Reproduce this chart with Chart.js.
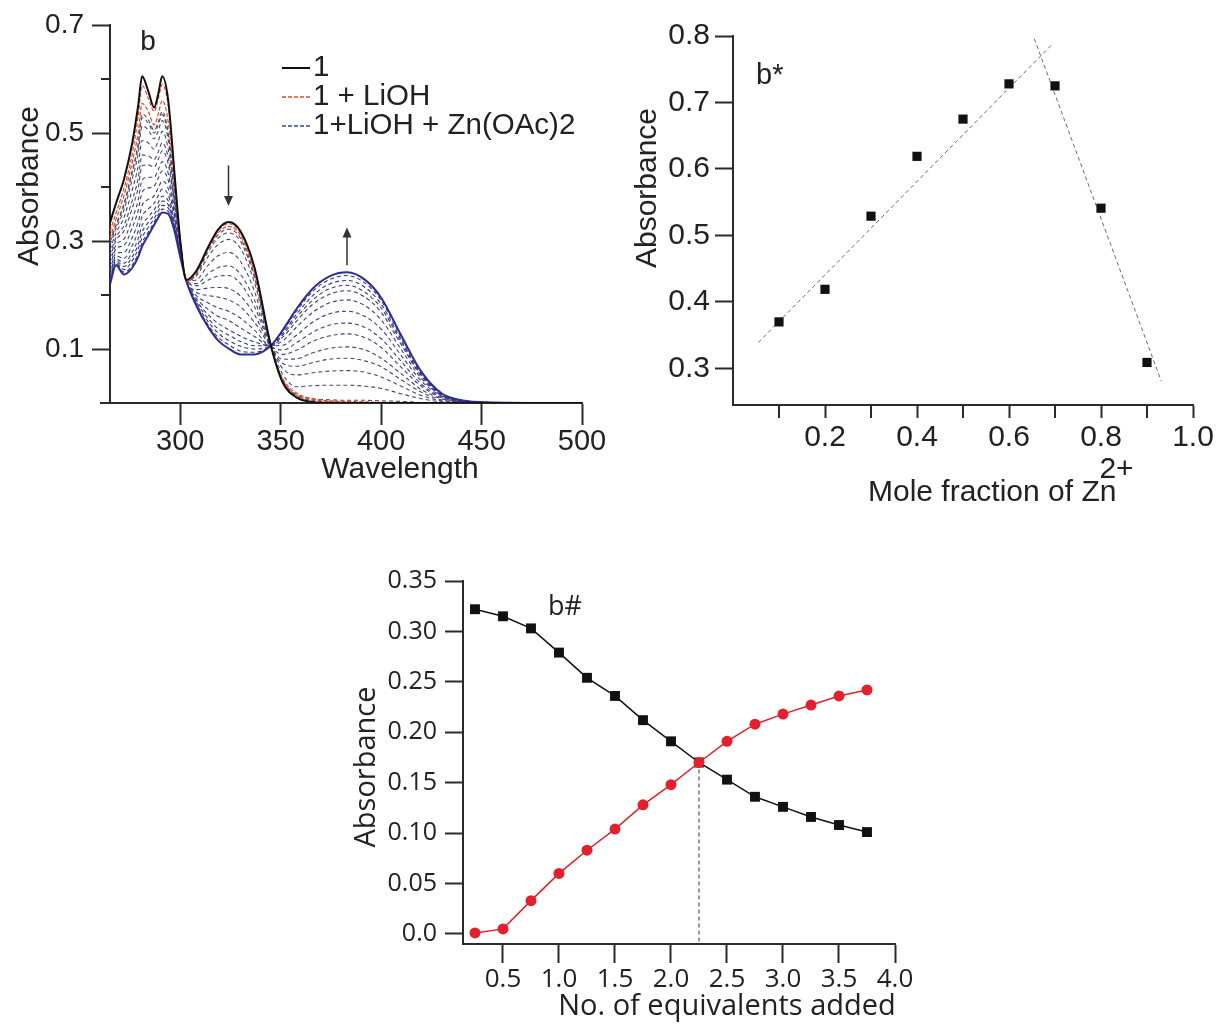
<!DOCTYPE html>
<html>
<head>
<meta charset="utf-8">
<title>Zn titration of 1</title>
<script src="https://cdn.jsdelivr.net/npm/chart.js@4.4.0/dist/chart.umd.min.js"></script>
<style>
  html, body { margin: 0; padding: 0; background: #fff; }
  body { width: 1216px; height: 1024px; position: relative; overflow: hidden; }
  .panel { position: absolute; }
</style>
</head>
<body>
<div class="panel" style="left:0;top:0;width:620px;height:500px"><canvas id="spectraChart"></canvas></div>
<div class="panel" style="left:620px;top:0;width:596px;height:520px"><canvas id="jobChart"></canvas></div>
<div class="panel" style="left:340px;top:540px;width:600px;height:484px"><canvas id="titrationChart"></canvas></div>
<script>
// ---- UV-vis spectra (panel b) ----
const wavelengths = [265, 268, 272, 276, 279, 281, 284, 287, 289, 291, 294, 297, 300, 303, 308, 314, 319, 324, 330, 337, 345, 351, 358, 366, 374, 383, 392, 400, 410, 420, 430, 440, 455, 500];

const ligandSpectrum = [.334, .370, .415, .480, .550, .605, .578, .547, .572, .605, .560, .430, .300, .228, .245, .290, .322, .335, .318, .250, .108, .038, .010, .002, 0, 0, 0, 0, 0, 0, 0, 0, 0, 0];

const lithiumSpectra = [
    [.318, .352, .398, .460, .530, .588, .565, .540, .563, .590, .550, .425, .300, .226, .243, .288, .320, .332, .315, .248, .107, .045, .018, .008, .004, .003, .002, .001, .001, 0, 0, 0, 0, 0],
    [.305, .340, .385, .445, .500, .555, .540, .515, .535, .560, .520, .410, .300, .226, .242, .287, .316, .327, .310, .240, .106, .042, .014, .006, .003, .002, .001, 0, 0, 0, 0, 0, 0, 0]
];

// one spectrum per Zn(OAc)2 addition, the last one is the end point
const zincSteps = [
    [.300, .330, .370, .430, .480, .535, .525, .505, .520, .540, .500, .400, .300, .226, .240, .285, .312, .322, .305, .235, .106, .040, .013, .005, .002, .001, .001, .001, .001, 0, 0, 0, 0, 0],
    [.298, .328, .366, .425, .474, .528, .519, .500, .515, .534, .496, .398, .299, .226, .238, .281, .306, .315, .299, .231, .106, .042, .015, .008, .006, .005, .005, .004, .003, .001, 0, 0, 0, 0],
    [.293, .323, .358, .414, .461, .513, .506, .489, .504, .523, .487, .393, .297, .226, .235, .272, .294, .303, .286, .222, .106, .053, .030, .032, .033, .033, .031, .027, .017, .008, .002, .001, 0, 0],
    [.284, .315, .344, .394, .438, .486, .482, .470, .485, .503, .470, .384, .294, .226, .228, .256, .273, .279, .262, .206, .106, .064, .052, .056, .059, .060, .057, .048, .031, .014, .004, .001, 0, 0],
    [.275, .307, .329, .374, .415, .459, .458, .451, .465, .482, .454, .375, .291, .226, .221, .240, .251, .254, .238, .190, .106, .073, .068, .075, .081, .083, .078, .067, .043, .020, .006, .002, 0, 0],
    [.269, .301, .319, .360, .398, .439, .441, .437, .451, .467, .442, .369, .288, .226, .217, .228, .235, .236, .221, .178, .106, .081, .082, .093, .101, .104, .098, .083, .054, .025, .008, .002, 0, 0],
    [.260, .293, .304, .340, .375, .413, .418, .418, .432, .447, .425, .360, .285, .226, .210, .213, .214, .212, .198, .163, .106, .090, .098, .114, .124, .128, .121, .103, .066, .031, .010, .003, 0, 0],
    [.253, .286, .292, .324, .356, .390, .398, .402, .416, .430, .412, .353, .282, .226, .205, .199, .196, .191, .178, .149, .106, .098, .112, .131, .144, .148, .140, .119, .077, .035, .011, .003, 0, 0],
    [.245, .278, .279, .306, .335, .366, .377, .384, .398, .411, .397, .345, .279, .226, .199, .185, .176, .170, .157, .135, .106, .107, .126, .150, .165, .170, .160, .137, .088, .041, .013, .004, 0, 0],
    [.238, .272, .268, .291, .318, .346, .359, .370, .384, .396, .385, .338, .277, .226, .194, .173, .160, .153, .139, .123, .106, .115, .141, .168, .185, .191, .180, .154, .099, .046, .014, .004, 0, 0],
    [.233, .267, .259, .279, .304, .329, .344, .358, .371, .383, .374, .333, .275, .226, .190, .163, .147, .136, .124, .113, .106, .122, .152, .183, .201, .208, .196, .168, .108, .050, .015, .004, .001, 0],
    [.229, .263, .253, .270, .293, .317, .334, .349, .363, .374, .367, .329, .273, .226, .187, .156, .137, .126, .114, .106, .106, .126, .159, .191, .211, .218, .205, .176, .113, .052, .016, .005, .001, 0],
    [.226, .260, .247, .263, .285, .307, .325, .342, .355, .366, .361, .326, .272, .226, .184, .150, .129, .116, .105, .100, .106, .129, .165, .199, .220, .227, .214, .183, .117, .054, .017, .005, .001, 0],
    [.222, .257, .242, .255, .276, .297, .316, .335, .348, .359, .355, .322, .271, .226, .182, .144, .121, .108, .096, .094, .106, .133, .171, .207, .228, .236, .222, .190, .122, .057, .018, .005, .001, 0],
    [.220, .255, .238, .250, .270, .290, .310, .330, .343, .353, .350, .320, .270, .226, .180, .140, .115, .101, .090, .090, .106, .135, .175, .212, .234, .242, .228, .195, .125, .058, .018, .005, .001, 0]
];

const spectraXTicks = [300, 350, 400, 450, 500];
const spectraYTicks = [0.1, 0.3, 0.5, 0.7];
const spectraYMinor = [0.2, 0.4, 0.6];
const spectraLegend = ['1', '1 + LiOH', '1+LiOH + Zn(OAc)2'];

// ---- Job plot (panel b*) ----
const moleFraction = [0.1, 0.2, 0.3, 0.4, 0.5, 0.6, 0.7, 0.8, 0.9];
const jobAbsorbance = [0.370, 0.419, 0.529, 0.619, 0.675, 0.728, 0.725, 0.541, 0.309];
const riseFit = [[0.055, 0.339], [0.696, 0.789]];
const fallFit = [[0.655, 0.796], [0.931, 0.281]];
const jobXTicks = [0.2, 0.4, 0.6, 0.8, 1.0];
const jobXMinor = [0.1, 0.3, 0.5, 0.7, 0.9];
const jobYTicks = [0.3, 0.4, 0.5, 0.6, 0.7, 0.8];

// ---- absorbance vs. equivalents (panel b#) ----
const equivalents = [0.25, 0.5, 0.75, 1.0, 1.25, 1.5, 1.75, 2.0, 2.25, 2.5, 2.75, 3.0, 3.25, 3.5, 3.75];
const abs324 = [0.322, 0.315, 0.303, 0.279, 0.254, 0.236, 0.212, 0.191, 0.170, 0.153, 0.136, 0.126, 0.116, 0.108, 0.101];
const abs383 = [0.001, 0.005, 0.033, 0.060, 0.083, 0.104, 0.128, 0.148, 0.170, 0.191, 0.208, 0.218, 0.227, 0.236, 0.242];
const crossIndex = 8;
const eqXTicks = [0.5, 1.0, 1.5, 2.0, 2.5, 3.0, 3.5, 4.0];
const eqYTicks = [0, 0.05, 0.10, 0.15, 0.20, 0.25, 0.30, 0.35];

const ARIAL = '"Liberation Sans", Arial, sans-serif';
const SANS = '"Open Sans", "Noto Sans", sans-serif';
const AXIS = '#2b2b2b';
const TEXT = '#222';

const toPoints = (xs, ys) => xs.map((x, i) => ({ x: x, y: ys[i] }));

function fixedTicks(values) {
    return scale => { scale.ticks = values.map(v => ({ value: v })); };
}

function axis(opts) {
    return {
        type: 'linear',
        min: opts.min,
        max: opts.max,
        afterBuildTicks: fixedTicks(opts.ticks),
        afterFit: scale => {
            if (scale.isHorizontal()) scale.height = opts.size;
            else scale.width = opts.size;
        },
        border: { display: true, color: AXIS, width: 2 },
        grid: { drawOnChartArea: false, drawTicks: true, tickLength: opts.tickLength, tickColor: AXIS, tickWidth: 2 },
        ticks: {
            autoSkip: false, maxRotation: 0, minRotation: 0,
            padding: opts.padding, color: TEXT,
            font: { family: opts.family, size: opts.fontSize },
            callback: opts.format
        }
    };
}

function text(ctx, str, x, y, font, align, rotate) {
    ctx.save();
    ctx.font = font;
    ctx.fillStyle = TEXT;
    ctx.textAlign = align || 'center';
    ctx.textBaseline = 'middle';
    ctx.translate(x, y);
    if (rotate) ctx.rotate(-Math.PI / 2);
    ctx.fillText(str, 0, 0);
    ctx.restore();
}

function minorTicks(chart, axisId, values, len) {
    const scale = chart.scales[axisId];
    const ctx = chart.ctx;
    ctx.save();
    ctx.strokeStyle = AXIS;
    ctx.lineWidth = 2;
    ctx.beginPath();
    values.forEach(v => {
        const p = scale.getPixelForValue(v);
        if (scale.isHorizontal()) {
            ctx.moveTo(p, chart.chartArea.bottom);
            ctx.lineTo(p, chart.chartArea.bottom + len);
        } else {
            ctx.moveTo(chart.chartArea.left, p);
            ctx.lineTo(chart.chartArea.left - len, p);
        }
    });
    ctx.stroke();
    ctx.restore();
}

function arrow(ctx, x, y1, y2) {
    const dir = y2 > y1 ? 1 : -1;
    ctx.save();
    ctx.strokeStyle = '#333';
    ctx.fillStyle = '#333';
    ctx.lineWidth = 1.5;
    ctx.beginPath();
    ctx.moveTo(x, y1);
    ctx.lineTo(x, y2 - dir * 8);
    ctx.stroke();
    ctx.beginPath();
    ctx.moveTo(x, y2);
    ctx.lineTo(x - 4.5, y2 - dir * 10);
    ctx.lineTo(x + 4.5, y2 - dir * 10);
    ctx.closePath();
    ctx.fill();
    ctx.restore();
}

const baseOptions = {
    responsive: true,
    maintainAspectRatio: false,
    animation: false,
    plugins: { legend: { display: false }, tooltip: { enabled: false } }
};

// ---------- panel b: spectra ----------
const stepColor = i => {
    const t = i / (zincSteps.length - 1);
    const r = Math.round(80 - 36 * t), g = Math.round(80 - 32 * t), b = Math.round(104 + 44 * t);
    return `rgb(${r},${g},${b})`;
};

const spectraDatasets = [];
spectraDatasets.push({
    data: toPoints(wavelengths, ligandSpectrum),
    borderColor: '#111', borderWidth: 2
});
lithiumSpectra.forEach(s => spectraDatasets.push({
    data: toPoints(wavelengths, s),
    borderColor: '#e2472b', borderWidth: 1.2, borderDash: [4, 2]
}));
spectraDatasets.push({
    data: toPoints(wavelengths, zincSteps[zincSteps.length - 1]),
    borderColor: '#2d2d94', borderWidth: 2
});
zincSteps.slice(0, -1).forEach((s, i) => spectraDatasets.push({
    data: toPoints(wavelengths, s),
    borderColor: stepColor(i), borderWidth: 1.1, borderDash: [4, 3]
}));
spectraDatasets.forEach(d => {
    d.pointRadius = 0;
    d.fill = false;
    d.cubicInterpolationMode = 'monotone';
});

const spectraDecor = {
    id: 'spectraDecor',
    afterDraw(chart) {
        const ctx = chart.ctx;
        const area = chart.chartArea;
        const xs = chart.scales.x, ys = chart.scales.y;
        minorTicks(chart, 'y', spectraYMinor, 9);
        // short stub of the baseline left of the y axis
        ctx.save();
        ctx.strokeStyle = AXIS;
        ctx.lineWidth = 2;
        ctx.beginPath();
        ctx.moveTo(area.left - 10, area.bottom);
        ctx.lineTo(area.left, area.bottom);
        ctx.stroke();
        ctx.restore();

        text(ctx, 'Absorbance', 30, 186, `30px ${ARIAL}`, 'center', true);
        text(ctx, 'Wavelength', 400, 470, `30px ${ARIAL}`);
        text(ctx, 'b', 148, 42, `28px ${ARIAL}`);
        arrow(ctx, xs.getPixelForValue(324), ys.getPixelForValue(0.44), ys.getPixelForValue(0.365));
        arrow(ctx, xs.getPixelForValue(383), ys.getPixelForValue(0.255), ys.getPixelForValue(0.325));

        const styles = [
            { color: '#111', dash: [], width: 2 },
            { color: '#e2472b', dash: [4, 2], width: 1.5 },
            { color: '#2f4f9e', dash: [4, 2], width: 1.5 }
        ];
        spectraLegend.forEach((label, i) => {
            const y = 68 + i * 29;
            ctx.save();
            ctx.strokeStyle = styles[i].color;
            ctx.lineWidth = styles[i].width;
            ctx.setLineDash(styles[i].dash);
            ctx.beginPath();
            ctx.moveTo(282, y);
            ctx.lineTo(310, y);
            ctx.stroke();
            ctx.restore();
            text(ctx, label, 313, y, `29.5px ${ARIAL}`, 'left');
        });
    }
};

new Chart(document.getElementById('spectraChart'), {
    type: 'line',
    data: { datasets: spectraDatasets },
    options: Object.assign({}, baseOptions, {
        layout: { padding: { top: 25, right: 38, left: 0, bottom: 0 } },
        scales: {
            x: axis({ min: 265, max: 500, ticks: spectraXTicks, size: 97, tickLength: 22, padding: 0,
                family: ARIAL, fontSize: 29, format: v => String(v) }),
            y: axis({ min: 0, max: 0.7, ticks: spectraYTicks, size: 110, tickLength: 18, padding: 8,
                family: ARIAL, fontSize: 28, format: v => v.toFixed(1) })
        }
    }),
    plugins: [spectraDecor]
});

// ---------- panel b*: Job plot ----------
const jobDecor = {
    id: 'jobDecor',
    afterDraw(chart) {
        const ctx = chart.ctx;
        minorTicks(chart, 'x', jobXMinor, 13);
        text(ctx, 'Absorbance', 28, 188, `30px ${ARIAL}`, 'center', true);
        text(ctx, 'b*', 136, 76, `29px ${ARIAL}`, 'left');
        const font = `30px ${ARIAL}`;
        ctx.save();
        ctx.font = font;
        const label = 'Mole fraction of Zn';
        const w = ctx.measureText(label).width;
        ctx.restore();
        text(ctx, label, 248, 493, font, 'left');
        // superscript sits over the tail of the "n"
        text(ctx, '2+', 248 + w - 17, 470, font, 'left');
    }
};

const fitLine = pts => ({
    data: pts.map(p => ({ x: p[0], y: p[1] })),
    borderColor: '#6a6a6a', borderWidth: 1, borderDash: [4, 3],
    pointRadius: 0, fill: false
});

new Chart(document.getElementById('jobChart'), {
    type: 'line',
    data: {
        datasets: [
            {
                data: toPoints(moleFraction, jobAbsorbance),
                showLine: false,
                pointStyle: 'rect', pointRadius: 6.5,
                pointBackgroundColor: '#111', pointBorderColor: '#111', pointBorderWidth: 0
            },
            fitLine(riseFit),
            fitLine(fallFit)
        ]
    },
    options: Object.assign({}, baseOptions, {
        layout: { padding: { top: 36, right: 23, left: 0, bottom: 0 } },
        scales: {
            x: axis({ min: 0, max: 1.0, ticks: jobXTicks, size: 115, tickLength: 13, padding: 2,
                family: ARIAL, fontSize: 30, format: v => v.toFixed(1) }),
            y: axis({ min: 0.245, max: 0.8, ticks: jobYTicks, size: 113, tickLength: 18, padding: 5,
                family: ARIAL, fontSize: 30, format: v => v.toFixed(1) })
        }
    }),
    plugins: [jobDecor]
});

// ---------- panel b#: absorbance at 324 / 383 nm vs equivalents ----------
const eqDecor = {
    id: 'eqDecor',
    afterDraw(chart) {
        const ctx = chart.ctx;
        text(ctx, 'Absorbance', 27, 227, `29px ${SANS}`, 'center', true);
        text(ctx, 'No. of equivalents added', 387, 467, `29px ${SANS}`);
        text(ctx, 'b#', 208, 67, `27px ${SANS}`, 'left');
    }
};

new Chart(document.getElementById('titrationChart'), {
    type: 'line',
    data: {
        datasets: [
            {
                data: toPoints(equivalents, abs383),
                borderColor: '#e3202d', borderWidth: 1.5,
                pointStyle: 'circle', pointRadius: 5.5,
                pointBackgroundColor: '#e3202d', pointBorderColor: '#e3202d', pointBorderWidth: 0
            },
            {
                data: toPoints(equivalents, abs324),
                borderColor: '#111', borderWidth: 1.5,
                pointStyle: 'rect', pointRadius: 7,
                pointBackgroundColor: '#111', pointBorderColor: '#111', pointBorderWidth: 0
            },
            {
                data: [
                    { x: equivalents[crossIndex], y: abs324[crossIndex] },
                    { x: equivalents[crossIndex], y: -0.01 }
                ],
                borderColor: '#555', borderWidth: 1.2, borderDash: [4, 3], pointRadius: 0
            }
        ]
    },
    options: Object.assign({}, baseOptions, {
        layout: { padding: { top: 41, right: 45, left: 0, bottom: 0 } },
        scales: {
            x: axis({ min: 0.143, max: 4.0, ticks: eqXTicks, size: 80, tickLength: 19, padding: 1,
                family: SANS, fontSize: 26, format: v => v.toFixed(1) }),
            y: axis({ min: -0.01, max: 0.35, ticks: eqYTicks, size: 123, tickLength: 18, padding: 8,
                family: SANS, fontSize: 25, format: v => (v === 0 ? '0.0' : v.toFixed(2)) })
        }
    }),
    plugins: [eqDecor]
});
</script>
</body>
</html>
